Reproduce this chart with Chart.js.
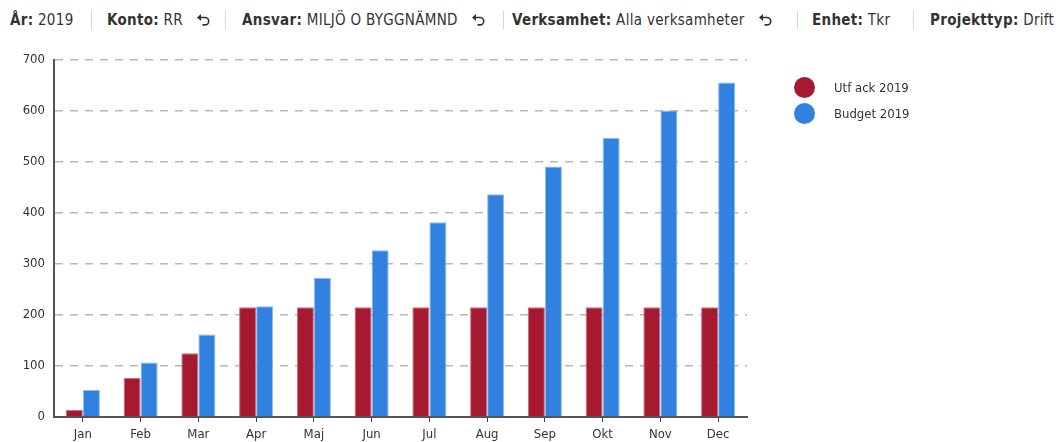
<!DOCTYPE html>
<html>
<head>
<meta charset="utf-8">
<script src="https://cdn.jsdelivr.net/npm/chart.js@4/dist/chart.umd.min.js"></script>
<style>
  body { margin: 0; background: #fff; font-family: "DejaVu Sans Condensed", "DejaVu Sans", sans-serif; color: #333; }
  #wrap { position: relative; width: 1056px; height: 442px; overflow: hidden; }
  #header { position: absolute; top: 9px; left: 0; width: 1056px; height: 22px; font-size: 15px; letter-spacing: 0.3px; white-space: nowrap; color: #333; }
  .filter { position: absolute; top: 0; height: 22px; display: flex; align-items: center; }
  .sep { position: absolute; top: 2px; width: 1px; height: 18px; background: #d5d5d5; }
  .undo { display: inline-block; width: 15px; height: 15px; margin-left: 13px; }
  #chartBox { position: absolute; left: 0; top: 40px; width: 1056px; height: 402px; }
  #legend { position: absolute; left: 794px; top: 74px; font-size: 13px; color: #333; }
  .item { display: flex; align-items: center; height: 26px; }
  .dot { width: 21px; height: 21px; border-radius: 50%; margin-right: 19px; }
</style>
</head>
<body>
<div id="wrap">
  <div id="header"></div>
  <div id="chartBox"><canvas id="budgetChart" width="1056" height="402"></canvas></div>
  <div id="legend"></div>
</div>
<script>
const months = ["Jan", "Feb", "Mar", "Apr", "Maj", "Jun", "Jul", "Aug", "Sep", "Okt", "Nov", "Dec"];
const utfAck = [14, 77, 125, 215, 215, 215, 215, 215, 215, 215, 215, 215];
const budget = [53, 107, 162, 217, 273, 327, 382, 437, 491, 547, 601, 656];
const seriesNames = ["Utf ack 2019", "Budget 2019"];
const yTicks = [0, 100, 200, 300, 400, 500, 600, 700];

const filterLabels = ["År:", "Konto:", "Ansvar:", "Verksamhet:", "Enhet:", "Projekttyp:"];
const filterValues = ["2019", "RR", "MILJÖ O BYGGNÄMND", "Alla verksamheter", "Tkr", "Drift"];
const filterUndo = [false, true, true, true, false, false];

// header layout (px)
const filterLeft = [10, 107, 242, 512, 812, 930];
const sepLeft = [91, 225, 503, 797, 913];

const undoIcon = '<svg class="undo" viewBox="0 0 15 15"><path d="M4 4.5 H9 A3.7 3.7 0 0 1 9 11.9 H6.5" fill="none" stroke="#333" stroke-width="1.7"/><path d="M1 4.5 L5 1 L5 8 Z" fill="#333"/></svg>';

const header = document.getElementById("header");
let headerHtml = "";
filterLabels.forEach((label, i) => {
  headerHtml += '<div class="filter" style="left:' + filterLeft[i] + 'px"><span><b>' + label + "</b> " + filterValues[i] + "</span>" + (filterUndo[i] ? undoIcon : "") + "</div>";
});
sepLeft.forEach((x) => {
  headerHtml += '<span class="sep" style="left:' + x + 'px"></span>';
});
header.innerHTML = headerHtml;

const red = "#a51a31";
const blue = "#3081e0";

const legend = document.getElementById("legend");
legend.innerHTML = seriesNames.map((name, i) =>
  '<div class="item"><span class="dot" style="background:' + [red, blue][i] + '"></span>' + name + "</div>"
).join("");

const fontFamily = '"DejaVu Sans Condensed", "DejaVu Sans", sans-serif';

new Chart(document.getElementById("budgetChart"), {
  type: "bar",
  data: {
    labels: months,
    datasets: [
      {
        label: seriesNames[0],
        data: utfAck,
        backgroundColor: red,
        borderColor: "#c8707e",
        borderWidth: 1,
        borderSkipped: "bottom",
      },
      {
        label: seriesNames[1],
        data: budget,
        backgroundColor: blue,
        borderColor: "#8dbbf0",
        borderWidth: 1,
        borderSkipped: "bottom",
      },
    ],
  },
  options: {
    responsive: false,
    animation: false,
    devicePixelRatio: 1,
    layout: { padding: { top: 20, right: 309, bottom: 0, left: 0 } },
    datasets: { bar: { barPercentage: 1, categoryPercentage: 0.59 } },
    plugins: { legend: { display: false }, tooltip: { enabled: false } },
    scales: {
      x: {
        afterFit: (axis) => { axis.height = 25; },
        grid: { offset: false, drawOnChartArea: false, drawTicks: true, tickLength: 5, color: "#444", lineWidth: 1 },
        border: { display: true, color: "#555", width: 2 },
        ticks: { color: "#333", font: { family: fontFamily, size: 13 }, padding: 5 },
      },
      y: {
        min: 0,
        max: 700,
        afterBuildTicks: (axis) => { axis.ticks = yTicks.map((v) => ({ value: v })); },
        afterFit: (axis) => { axis.width = 54; },
        grid: { color: "#b8b8b8", lineWidth: 1.5, drawTicks: false },
        border: { display: true, color: "#555", width: 2, dash: [8, 7] },
        ticks: { color: "#333", font: { family: fontFamily, size: 13 }, padding: 9 },
      },
    },
  },
});
</script>
</body>
</html>
